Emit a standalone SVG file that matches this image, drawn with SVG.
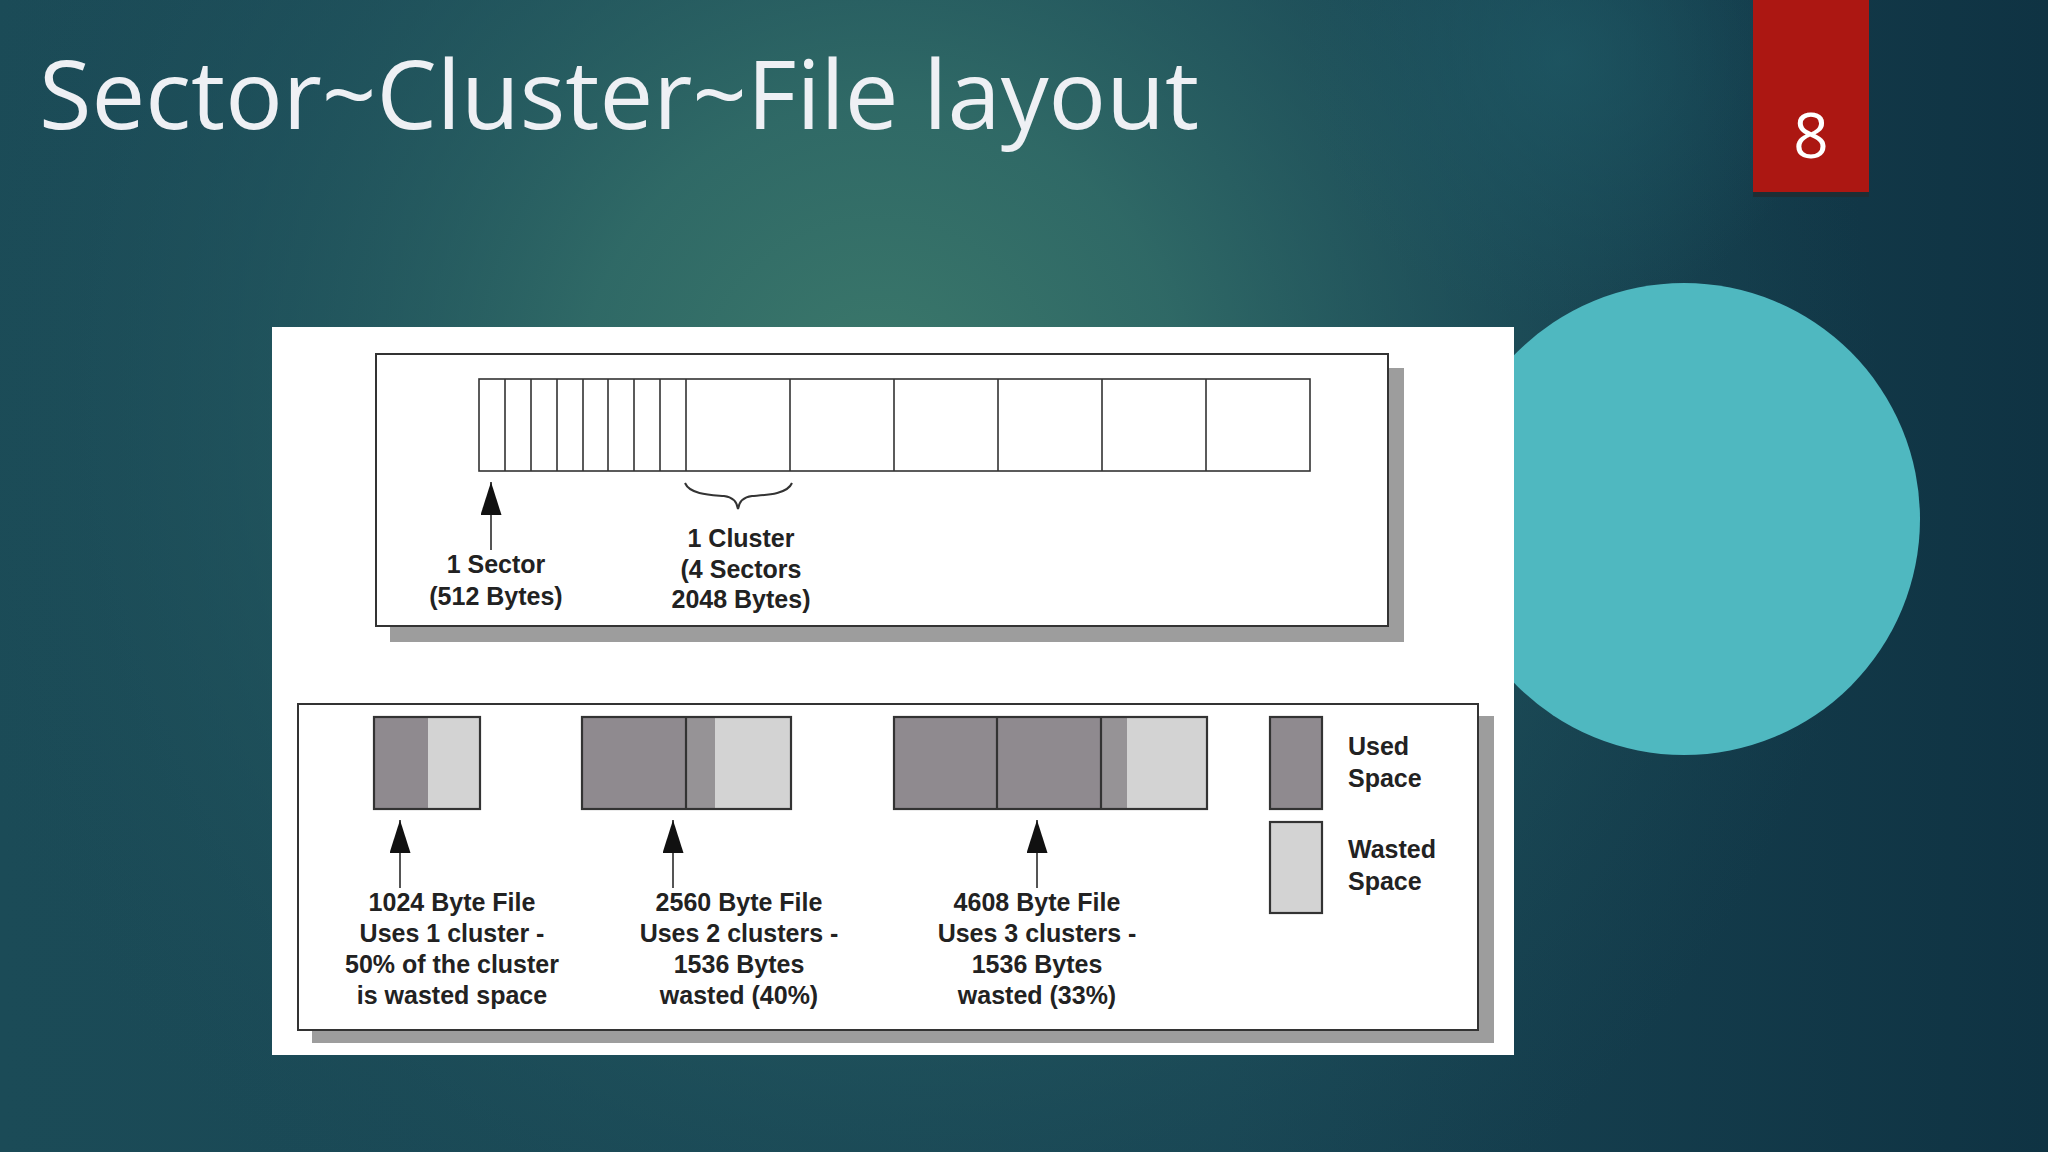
<svg xmlns="http://www.w3.org/2000/svg" width="2048" height="1152" viewBox="0 0 2048 1152">
<defs>
  <linearGradient id="bgLin" x1="0" y1="0" x2="1" y2="0">
    <stop offset="0" stop-color="#1b4b57"/>
    <stop offset="0.6" stop-color="#184453"/>
    <stop offset="1" stop-color="#0f3343"/>
  </linearGradient>
  <radialGradient id="bgGlow" cx="880" cy="400" r="1000" gradientUnits="userSpaceOnUse">
    <stop offset="0" stop-color="#3c796b" stop-opacity="1"/>
    <stop offset="0.3" stop-color="#336f69" stop-opacity="0.85"/>
    <stop offset="0.65" stop-color="#245a61" stop-opacity="0.45"/>
    <stop offset="1" stop-color="#1b4b57" stop-opacity="0"/>
  </radialGradient>
  <radialGradient id="bgSpot" cx="1560" cy="60" r="260" gradientUnits="userSpaceOnUse">
    <stop offset="0" stop-color="#1f5a66" stop-opacity="0.7"/>
    <stop offset="1" stop-color="#1f5a66" stop-opacity="0"/>
  </radialGradient>
  <marker id="ah" markerUnits="userSpaceOnUse" markerWidth="34" markerHeight="22" refX="33" refY="10.5" orient="auto">
    <path d="M0,0 L33,10.5 L0,21 Z" fill="#111"/>
  </marker>
  <style>
    .lbl { font-family: "Liberation Sans", Arial, sans-serif; font-size: 25px; font-weight: bold; fill: #222; text-anchor: middle; }
    .leg { font-family: "Liberation Sans", Arial, sans-serif; font-size: 25px; font-weight: bold; fill: #222; }
    .box { fill: #fff; stroke: #333; stroke-width: 2; }
    .shadow { fill: #9d9d9d; }
    .cell { fill: none; stroke: #333; stroke-width: 1.6; }
    .used { fill: #8f8a8f; }
    .used2 { fill: #969396; }
    .waste { fill: #d3d3d3; }
    .blk { fill: none; stroke: #333; stroke-width: 2.2; }
    .arrow { stroke: #555; stroke-width: 2; fill: none; marker-end: url(#ah); }
    .brace { stroke: #333; stroke-width: 2; fill: none; }
  </style>
</defs>

<!-- background -->
<rect x="0" y="0" width="2048" height="1152" fill="url(#bgLin)"/>
<rect x="0" y="0" width="2048" height="1152" fill="url(#bgGlow)"/>
<rect x="0" y="0" width="2048" height="1152" fill="url(#bgSpot)"/>

<!-- title -->
<text id="title" x="39" y="129" font-family="'Open Sans', 'Noto Sans', sans-serif" font-size="96" fill="#eef0f4" textLength="1160" lengthAdjust="spacingAndGlyphs">Sector~Cluster~File layout</text>

<!-- slide number -->
<g id="slide-number">
  <rect x="1753" y="192" width="116" height="5" fill="#1d2e35"/>
  <rect x="1753" y="0" width="116" height="192" fill="#ac1712"/>
  <text x="1811" y="158" font-family="'Open Sans', 'Noto Sans', sans-serif" font-size="62" fill="#ffffff" text-anchor="middle">8</text>
</g>

<!-- decorative circle -->
<circle id="circle" cx="1684" cy="519" r="236" fill="#4fb8c0"/>

<!-- white panel -->
<rect id="panel" x="272" y="327" width="1242" height="728" fill="#ffffff"/>

<!-- top box: sectors and clusters -->
<g id="top-box">
  <rect class="shadow" x="390" y="368" width="1014" height="274"/>
  <rect class="box" x="376" y="354" width="1012" height="272"/>
</g>

<g id="sector-strip">
  <rect class="cell" x="479" y="379" width="831" height="92"/>
  <path class="cell" d="M505,379V471 M531,379V471 M557,379V471 M583,379V471 M608,379V471 M634,379V471 M660,379V471 M686,379V471 M790,379V471 M894,379V471 M998,379V471 M1102,379V471 M1206,379V471"/>
</g>

<g id="sector-label">
  <text class="lbl" x="496" y="573">1 Sector</text>
  <text class="lbl" x="496" y="605">(512 Bytes)</text>
</g>

<g id="cluster-label">
  <text class="lbl" x="741" y="547">1 Cluster</text>
  <text class="lbl" x="741" y="578">(4 Sectors</text>
  <text class="lbl" x="741" y="608">2048 Bytes)</text>
</g>

<!-- bottom box: files -->
<g id="bottom-box">
  <rect class="shadow" x="312" y="716" width="1182" height="327"/>
  <rect class="box" x="298" y="704" width="1180" height="326"/>
</g>

<g id="file-1024">
  <rect class="used" x="374" y="717" width="54" height="92"/>
  <rect class="waste" x="428" y="717" width="52" height="92"/>
  <rect class="blk" x="374" y="717" width="106" height="92"/>
  <text class="lbl" x="452" y="911">1024 Byte File</text>
  <text class="lbl" x="452" y="942">Uses 1 cluster -</text>
  <text class="lbl" x="452" y="973">50% of the cluster</text>
  <text class="lbl" x="452" y="1004">is wasted space</text>
</g>

<g id="file-2560">
  <rect class="used" x="582" y="717" width="104" height="92"/>
  <rect class="used2" x="686" y="717" width="29" height="92"/>
  <rect class="waste" x="715" y="717" width="76" height="92"/>
  <rect class="blk" x="582" y="717" width="209" height="92"/>
  <path class="blk" d="M686,717V809"/>
  <text class="lbl" x="739" y="911">2560 Byte File</text>
  <text class="lbl" x="739" y="942">Uses 2 clusters -</text>
  <text class="lbl" x="739" y="973">1536 Bytes</text>
  <text class="lbl" x="739" y="1004">wasted (40%)</text>
</g>

<g id="file-4608">
  <rect class="used" x="894" y="717" width="208" height="92"/>
  <rect class="used2" x="1102" y="717" width="25" height="92"/>
  <rect class="waste" x="1127" y="717" width="80" height="92"/>
  <rect class="blk" x="894" y="717" width="313" height="92"/>
  <path class="blk" d="M997,717V809 M1101,717V809"/>
  <text class="lbl" x="1037" y="911">4608 Byte File</text>
  <text class="lbl" x="1037" y="942">Uses 3 clusters -</text>
  <text class="lbl" x="1037" y="973">1536 Bytes</text>
  <text class="lbl" x="1037" y="1004">wasted (33%)</text>
</g>

<g id="legend-used">
  <rect class="used" x="1270" y="717" width="52" height="92"/>
  <rect class="blk" x="1270" y="717" width="52" height="92"/>
  <text class="leg" x="1348" y="755">Used</text>
  <text class="leg" x="1348" y="787">Space</text>
</g>

<g id="legend-wasted">
  <rect class="waste" x="1270" y="822" width="52" height="91"/>
  <rect class="blk" x="1270" y="822" width="52" height="91"/>
  <text class="leg" x="1348" y="858">Wasted</text>
  <text class="leg" x="1348" y="890">Space</text>
</g>

<!-- connectors -->
<g id="connectors">
  <path class="arrow" d="M491,550 V482"/>
  <path class="brace" d="M685,483 C690,495 713,495 724,496 C733,497 737,502 738,509 C739,502 743,497 752,496 C763,495 787,495 792,483"/>
  <path class="arrow" d="M400,888 V820"/>
  <path class="arrow" d="M673,888 V820"/>
  <path class="arrow" d="M1037,888 V820"/>
</g>
</svg>
